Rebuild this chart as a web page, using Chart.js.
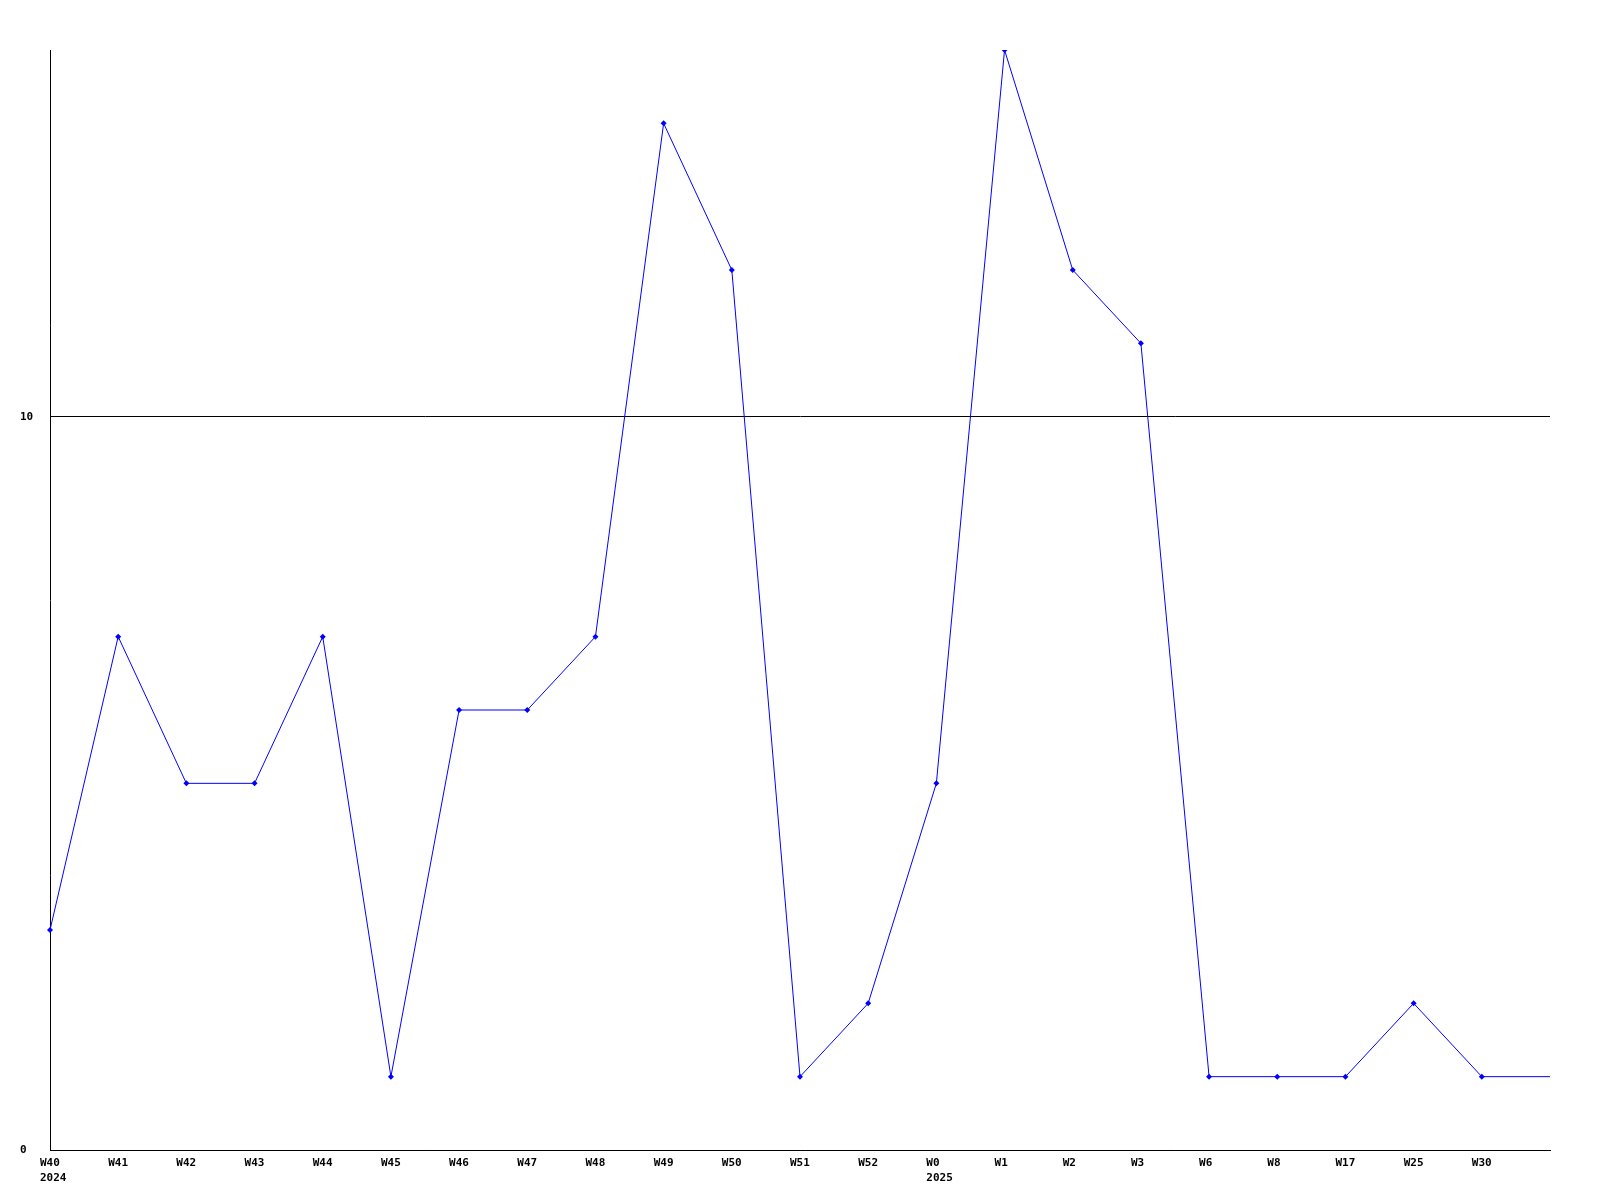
<!DOCTYPE html>
<html>
<head>
<meta charset="utf-8">
<script src="https://cdn.jsdelivr.net/npm/chart.js@4/dist/chart.umd.min.js"></script>
<style>
  html, body { margin: 0; padding: 0; background: #ffffff; }
  #wrap { width: 1600px; height: 1200px; position: relative; }
</style>
</head>
<body>
<div id="wrap"><canvas id="c"></canvas></div>
<script>
const categories = [
  ["W40", "2024"], "W41", "W42", "W43", "W44", "W45", "W46", "W47", "W48", "W49",
  "W50", "W51", "W52", ["W0", "2025"], "W1", "W2", "W3", "W6", "W8", "W17", "W25", "W30", ""
];
const values = [3, 7, 5, 5, 7, 1, 6, 6, 7, 14, 12, 1, 2, 5, 15, 12, 11, 1, 1, 1, 2, 1, 1];
const yTicks = [0, 10];
const yMin = 0;
const yMax = 15;

const tickFont = { family: "'DejaVu Sans Mono', monospace", size: 11, weight: 'bold', lineHeight: 1.35 };
const lastIndex = values.length - 1;

new Chart(document.getElementById('c'), {
  type: 'line',
  data: {
    labels: categories,
    datasets: [{
      data: values,
      borderColor: '#0000ff',
      backgroundColor: '#0000ff',
      borderWidth: 1,
      fill: false,
      tension: 0,
      pointStyle: 'rectRot',
      pointRadius: ctx => ctx.dataIndex === lastIndex ? 0 : 3,
      pointBorderWidth: 0,
      pointBackgroundColor: '#0000ff'
    }]
  },
  options: {
    responsive: true,
    maintainAspectRatio: false,
    animation: false,
    layout: { padding: { left: 20, top: 50, right: 50, bottom: 0 } },
    plugins: { legend: { display: false }, tooltip: { enabled: false } },
    scales: {
      x: {
        type: 'category',
        offset: false,
        grid: { display: false, drawTicks: false },
        border: { display: true, color: '#000000', width: 1 },
        ticks: {
          color: '#000000',
          font: tickFont,
          autoSkip: false,
          maxRotation: 0,
          minRotation: 0,
          align: 'start',
          labelOffset: -10,
          padding: 6
        },
        afterFit: axis => { axis.height = 50; }
      },
      y: {
        min: yMin,
        max: yMax,
        grid: { color: '#000000', lineWidth: 1, drawTicks: false },
        border: { display: true, color: '#000000', width: 1 },
        ticks: {
          color: '#000000',
          font: tickFont,
          crossAlign: 'far',
          padding: 0
        },
        afterBuildTicks: axis => { axis.ticks = yTicks.map(v => ({ value: v })); },
        afterFit: axis => { axis.width = 30; }
      }
    }
  }
});
</script>
</body>
</html>
